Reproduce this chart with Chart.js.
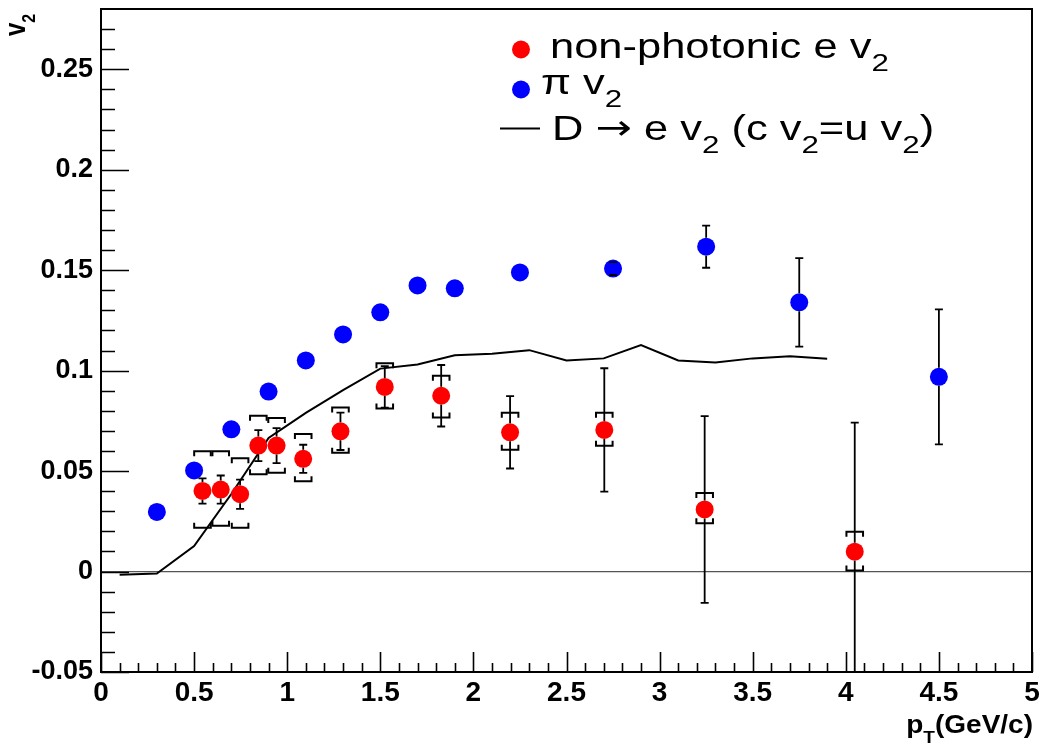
<!DOCTYPE html>
<html>
<head>
<meta charset="utf-8">
<script src="https://cdn.jsdelivr.net/npm/chart.js@4.4.0/dist/chart.umd.min.js"></script>
<style>
  html, body { margin: 0; padding: 0; background: #fff; }
  #wrap { width: 1041px; height: 747px; position: relative; }
</style>
</head>
<body>
<div id="wrap"><canvas id="c"></canvas></div>
<script>
// ---- data ----
const pionPt  = [0.3, 0.5, 0.7, 0.9, 1.1, 1.3, 1.5, 1.7, 1.9, 2.25, 2.75, 3.25, 3.75, 4.5];
const pionV2  = [0.0297, 0.0503, 0.0708, 0.0896, 0.1051, 0.118, 0.129, 0.1424, 0.141, 0.1489, 0.1508, 0.1617, 0.134, 0.0969];
const pionErr = [0, 0, 0, 0, 0, 0, 0, 0, 0, 0, 0.0032, 0.0105, 0.022, 0.0336];

const npePt    = [0.545, 0.643, 0.747, 0.845, 0.943, 1.086, 1.286, 1.524, 1.827, 2.197, 2.703, 3.242, 4.048];
const npeV2    = [0.0401, 0.0408, 0.0385, 0.0627, 0.0627, 0.0561, 0.0698, 0.0919, 0.0875, 0.0693, 0.0705, 0.0309, 0.0099];
const npeStat  = [0.0063, 0.007, 0.0073, 0.0077, 0.0087, 0.007, 0.0093, 0.0103, 0.0153, 0.018, 0.0307, 0.0465, 0.0642];
const npeSysHi = [0.0198, 0.0191, 0.0179, 0.0149, 0.0137, 0.0124, 0.0119, 0.0118, 0.0099, 0.0098, 0.0086, 0.0082, 0.0099];
const npeSysLo = [0.0183, 0.018, 0.0167, 0.0143, 0.0135, 0.0111, 0.0107, 0.0107, 0.0108, 0.0087, 0.0079, 0.0069, 0.0094];

const modelPt = [0.1, 0.3, 0.5, 0.7, 0.9, 1.1, 1.3, 1.5, 1.7, 1.9, 2.1, 2.3, 2.5, 2.7, 2.9, 3.1, 3.3, 3.5, 3.7, 3.9];
const modelV2 = [-0.0016, -0.001, 0.0127, 0.0386, 0.0665, 0.079, 0.0903, 0.101, 0.1031, 0.1076, 0.1084, 0.1102, 0.1051, 0.1061, 0.1127, 0.1051, 0.104, 0.1061, 0.1071, 0.1059];

const xTickVals   = [0, 0.5, 1, 1.5, 2, 2.5, 3, 3.5, 4, 4.5, 5];
const xTickLabels = ['0', '0.5', '1', '1.5', '2', '2.5', '3', '3.5', '4', '4.5', '5'];
const yTickVals   = [-0.05, 0, 0.05, 0.1, 0.15, 0.2, 0.25];
const yTickLabels = ['-0.05', '0', '0.05', '0.1', '0.15', '0.2', '0.25'];

const FONT = '"Liberation Sans", Arial, Helvetica, sans-serif';

function pts(xs, ys) { return xs.map((x, i) => ({ x: x, y: ys[i] })); }

function partFont(p, size, bold, subScale) {
  const fs = p.sub ? size * subScale : size;
  return (bold ? 'bold ' : '') + fs + 'px ' + (p.fam || FONT);
}
function richText(ctx, x, y, parts, size, sx, bold, subScale, subOff) {
  ctx.save();
  ctx.translate(x, y);
  ctx.scale(sx, 1);
  ctx.textBaseline = 'alphabetic';
  ctx.textAlign = 'left';
  let cx = 0;
  for (const p of parts) {
    ctx.font = partFont(p, size, bold, subScale);
    ctx.fillText(p.t, cx, (p.sub ? subOff : 0) + (p.dy || 0));
    cx += ctx.measureText(p.t).width;
  }
  ctx.restore();
}
function richWidth(ctx, parts, size, bold, subScale) {
  let w = 0;
  for (const p of parts) {
    ctx.font = partFont(p, size, bold, subScale);
    w += ctx.measureText(p.t).width;
  }
  return w;
}

const rootStyle = {
  id: 'rootStyle',
  beforeDatasetsDraw(chart) {
    const ctx = chart.ctx, xs = chart.scales.x, ys = chart.scales.y;
    ctx.save();
    ctx.strokeStyle = '#555';
    ctx.lineWidth = 1.2;
    ctx.beginPath();
    ctx.moveTo(xs.getPixelForValue(0), ys.getPixelForValue(0));
    ctx.lineTo(xs.getPixelForValue(5), ys.getPixelForValue(0));
    ctx.stroke();
    ctx.restore();
  },
  afterDatasetsDraw(chart) {
    const ctx = chart.ctx, xs = chart.scales.x, ys = chart.scales.y, a = chart.chartArea;
    ctx.save();
    ctx.beginPath();
    ctx.rect(a.left, a.top, a.right - a.left, a.bottom - a.top);
    ctx.clip();
    ctx.strokeStyle = '#000';
    ctx.lineWidth = 1.8;
    pionPt.forEach((x, i) => {
      const e = pionErr[i];
      if (!e) return;
      const X = xs.getPixelForValue(x);
      const y1 = ys.getPixelForValue(pionV2[i] + e), y2 = ys.getPixelForValue(pionV2[i] - e);
      const yc = ys.getPixelForValue(pionV2[i]);
      ctx.beginPath();
      if (y1 < yc - 9) { ctx.moveTo(X, y1); ctx.lineTo(X, yc - 9); }
      if (y2 > yc + 9) { ctx.moveTo(X, yc + 9); ctx.lineTo(X, y2); }
      ctx.moveTo(X - 4, y1); ctx.lineTo(X + 4, y1);
      ctx.moveTo(X - 4, y2); ctx.lineTo(X + 4, y2);
      ctx.stroke();
    });
    npePt.forEach((x, i) => {
      const X = xs.getPixelForValue(x);
      const v = npeV2[i];
      const y1 = ys.getPixelForValue(v + npeStat[i]), y2 = ys.getPixelForValue(v - npeStat[i]);
      const yc = ys.getPixelForValue(v);
      ctx.lineWidth = 1.8;
      ctx.beginPath();
      if (y1 < yc - 9) { ctx.moveTo(X, y1); ctx.lineTo(X, yc - 9); }
      if (y2 > yc + 9) { ctx.moveTo(X, yc + 9); ctx.lineTo(X, y2); }
      ctx.moveTo(X - 4, y1); ctx.lineTo(X + 4, y1);
      ctx.moveTo(X - 4, y2); ctx.lineTo(X + 4, y2);
      ctx.stroke();
      const s1 = ys.getPixelForValue(v + npeSysHi[i]), s2 = ys.getPixelForValue(v - npeSysLo[i]);
      const hw = 8.3, leg = 5;
      ctx.lineWidth = 2;
      ctx.beginPath();
      ctx.moveTo(X - hw, s1 + leg); ctx.lineTo(X - hw, s1); ctx.lineTo(X + hw, s1); ctx.lineTo(X + hw, s1 + leg);
      ctx.moveTo(X - hw, s2 - leg); ctx.lineTo(X - hw, s2); ctx.lineTo(X + hw, s2); ctx.lineTo(X + hw, s2 - leg);
      ctx.stroke();
    });
    ctx.restore();
  },
  afterDraw(chart) {
    const ctx = chart.ctx, xs = chart.scales.x, ys = chart.scales.y, a = chart.chartArea;
    ctx.save();
    ctx.fillStyle = '#000';
    ctx.strokeStyle = '#000';
    ctx.lineWidth = 2;
    ctx.strokeRect(a.left, a.top, a.right - a.left, a.bottom - a.top);
    ctx.lineWidth = 1.6;
    ctx.beginPath();
    for (let k = -5; k <= 27; k++) {
      const Y = Math.round(ys.getPixelForValue(k / 100)) + 0.5;
      const major = (k % 5 === 0);
      ctx.moveTo(a.left, Y); ctx.lineTo(a.left + (major ? 28 : 14), Y);
    }
    for (let k = 0; k <= 50; k++) {
      const X = Math.round(xs.getPixelForValue(k / 10)) + 0.5;
      const major = (k % 5 === 0);
      ctx.moveTo(X, a.bottom); ctx.lineTo(X, a.bottom - (major ? 20 : 9));
    }
    ctx.stroke();

    // legend
    const sx = 1.26, fs = 34.5;
    ctx.fillStyle = '#ff0000';
    ctx.beginPath(); ctx.arc(521, 49.5, 9, 0, Math.PI * 2); ctx.fill();
    ctx.fillStyle = '#0000ff';
    ctx.beginPath(); ctx.arc(521, 89.5, 9, 0, Math.PI * 2); ctx.fill();
    ctx.strokeStyle = '#000'; ctx.lineWidth = 2;
    ctx.beginPath(); ctx.moveTo(500, 128.5); ctx.lineTo(540, 128.5); ctx.stroke();
    ctx.fillStyle = '#000';
    richText(ctx, 550, 58, [{ t: 'non-photonic e v' }, { t: '2', sub: true }], fs, sx, false, 0.72, 13);
    richText(ctx, 541, 94, [{ t: '\u03C0 v' }, { t: '2', sub: true }], fs, sx, false, 0.72, 13);
    richText(ctx, 552, 140, [{ t: 'D ' }, { t: '\u2192', fam: '"DejaVu Sans", sans-serif', dy: -1 }, { t: ' e v' }, { t: '2', sub: true }, { t: ' (c v' }, { t: '2', sub: true },
      { t: '=u v' }, { t: '2', sub: true }, { t: ')' }], fs, sx, false, 0.72, 13);

    // x axis title
    const xt = [{ t: 'p' }, { t: 'T', sub: true }, { t: '(GeV/c)' }];
    const xsx = 1.12;
    const w = richWidth(ctx, xt, 25, true, 0.68) * xsx;
    richText(ctx, 1033 - w, 733, xt, 25, xsx, true, 0.68, 10);

    // y axis title (rotated)
    ctx.save();
    ctx.translate(25, 36);
    ctx.rotate(-Math.PI / 2);
    ctx.scale(1, 1.2);
    ctx.font = 'bold 24px ' + FONT;
    ctx.textBaseline = 'alphabetic';
    ctx.fillText('v', 0, 0);
    const vw = ctx.measureText('v').width;
    ctx.font = 'bold 16px ' + FONT;
    ctx.fillText('2', vw, 8);
    ctx.restore();

    ctx.restore();
  }
};

new Chart(document.getElementById('c'), {
  type: 'scatter',
  data: {
    datasets: [
      {
        label: 'non-photonic e v2',
        data: pts(npePt, npeV2),
        backgroundColor: '#ff0000',
        borderWidth: 0,
        pointRadius: 9,
        pointHoverRadius: 9,
        order: 0
      },
      {
        label: 'pi v2',
        data: pts(pionPt, pionV2),
        backgroundColor: '#0000ff',
        borderWidth: 0,
        pointRadius: 9,
        pointHoverRadius: 9,
        order: 1
      },
      {
        type: 'line',
        label: 'D -> e v2 (c v2 = u v2)',
        data: pts(modelPt, modelV2),
        borderColor: '#000',
        borderWidth: 2,
        pointRadius: 0,
        fill: false,
        tension: 0,
        order: 2
      }
    ]
  },
  options: {
    responsive: true,
    maintainAspectRatio: false,
    animation: false,
    events: [],
    layout: { padding: { top: 7, right: 8, left: 0, bottom: 0 } },
    plugins: { legend: { display: false }, tooltip: { enabled: false } },
    scales: {
      x: {
        type: 'linear',
        min: 0, max: 5,
        grid: { display: false, drawTicks: false },
        border: { display: false },
        afterBuildTicks: (s) => { s.ticks = xTickVals.map(v => ({ value: v })); },
        afterFit: (s) => { s.height = 75; s.paddingLeft = 0; s.paddingRight = 0; },
        ticks: {
          autoSkip: false, maxRotation: 0, minRotation: 0,
          padding: 4,
          color: '#000',
          font: { family: FONT, size: 28, weight: 'bold' },
          callback: (v) => { const i = xTickVals.findIndex(t => Math.abs(t - v) < 1e-9); return i >= 0 ? xTickLabels[i] : ''; }
        }
      },
      y: {
        type: 'linear',
        min: -0.05, max: 0.28,
        grid: { display: false, drawTicks: false },
        border: { display: false },
        afterBuildTicks: (s) => { s.ticks = yTickVals.map(v => ({ value: v })); },
        afterFit: (s) => { s.width = 101; s.paddingTop = 0; s.paddingBottom = 0; },
        ticks: {
          autoSkip: false,
          padding: 8,
          color: '#000',
          font: { family: FONT, size: 27, weight: 'bold' },
          callback: (v) => { const i = yTickVals.findIndex(t => Math.abs(t - v) < 1e-9); return i >= 0 ? yTickLabels[i] : ''; }
        }
      }
    }
  },
  plugins: [rootStyle]
});
</script>
</body>
</html>
